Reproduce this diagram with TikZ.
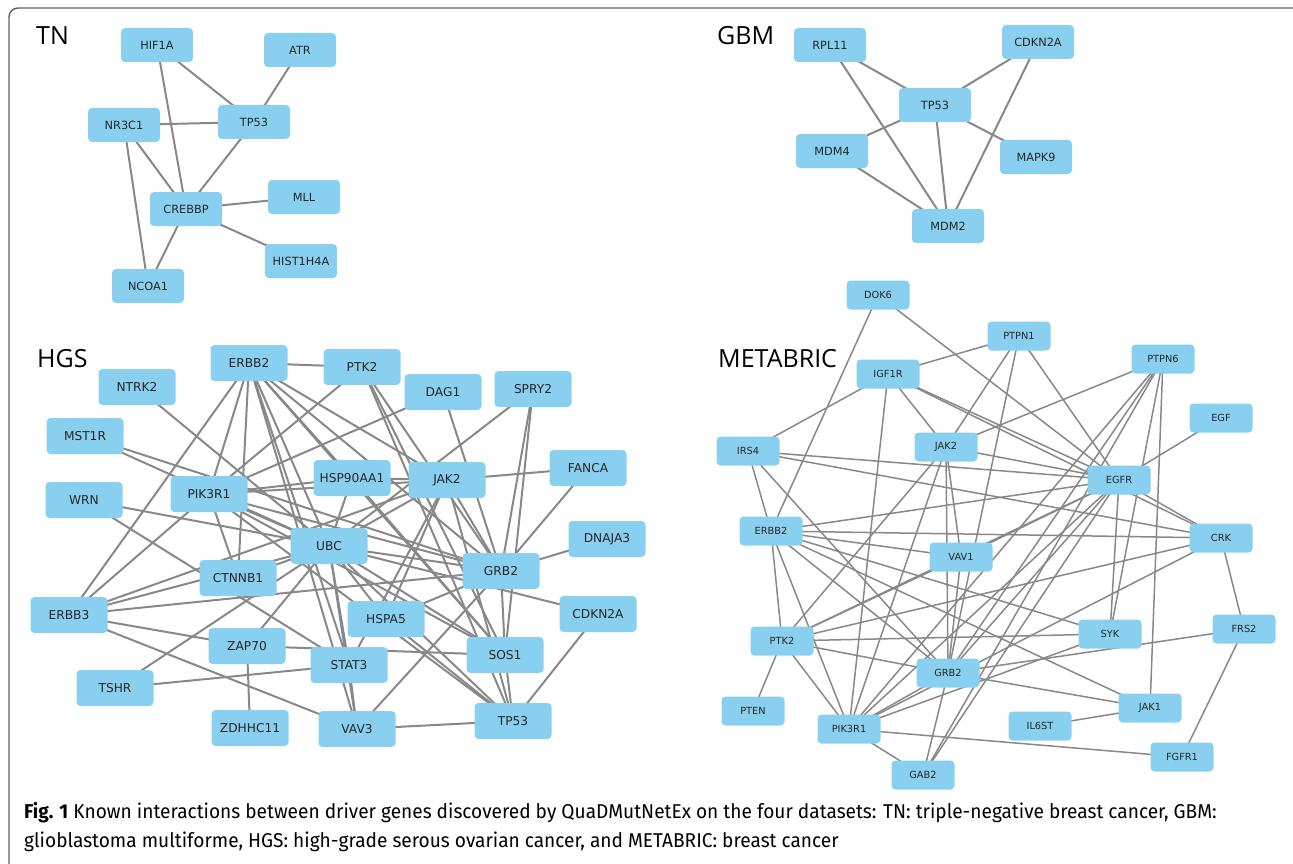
\documentclass[tikz,border=0pt]{standalone}
\usepackage{fontspec}
\newfontfamily\nodefont{DejaVu Sans}
\newfontfamily\labfont{Open Sans}
\newfontfamily\capfont[FakeStretch=0.955]{Fira Sans}
\usetikzlibrary{backgrounds}
\definecolor{nodeblue}{RGB}{137,207,240}
\definecolor{edgegray}{RGB}{136,136,136}
\definecolor{framegray}{RGB}{95,95,95}
\tikzset{
 gene/.style={fill=nodeblue, rounded corners=4pt, inner sep=0pt, text=black!85},
 gsmall/.style={gene, minimum width=72pt, minimum height=34pt, font=\nodefont\fontsize{11.3}{13}\selectfont},
 ghgs/.style={gene, minimum width=77pt, minimum height=36pt, font=\nodefont\fontsize{12.2}{14}\selectfont},
 gmeta/.style={gene, minimum width=63pt, minimum height=29pt, font=\nodefont\fontsize{9.8}{12}\selectfont},
 link/.style={draw=edgegray, line width=2pt},
 mlink/.style={draw=edgegray, line width=1.5pt},
 netlabel/.style={font=\labfont\fontsize{25}{30}\selectfont, anchor=base west, inner sep=0pt},
 captext/.style={font=\capfont\fontsize{20}{24}\selectfont, anchor=west, inner sep=0pt}
}
\begin{document}
\begin{tikzpicture}[x=1pt,y=-1pt]
\useasboundingbox (0,0) rectangle (1293,864);
\draw[framegray, line width=1.4pt, rounded corners=9pt] (1293,8) -- (9,8) -- (9,864);

% labels
\node[netlabel] (labTN) at (36,45) {TN};
\node[netlabel] (labGBM) at (717,45) {GBM};
\node[netlabel] (labHGS) at (37,367) {HGS};
\node[netlabel] (labMET) at (718,367) {METABRIC};

% TN
\node[gsmall] (tHIF) at (157,45) {HIF1A};
\node[gsmall] (tATR) at (300,50) {ATR};
\node[gsmall] (tNR3) at (124,125) {NR3C1};
\node[gsmall] (tTP53) at (254,122) {TP53};
\node[gsmall] (tCRE) at (186,209) {CREBBP};
\node[gsmall] (tMLL) at (304,197) {MLL};
\node[gsmall] (tHIS) at (301,261) {HIST1H4A};
\node[gsmall] (tNCO) at (148,286) {NCOA1};

% GBM
\node[gsmall] (gRPL) at (830,45) {RPL11};
\node[gsmall] (gCDK) at (1038,42) {CDKN2A};
\node[gsmall] (gTP53) at (935,105) {TP53};
\node[gsmall] (gMDM4) at (832,151) {MDM4};
\node[gsmall] (gMAPK) at (1036,157) {MAPK9};
\node[gsmall] (gMDM2) at (948,226) {MDM2};

% HGS
\node[ghgs] (hERBB2) at (249,363) {ERBB2};
\node[ghgs] (hNTRK2) at (137,387) {NTRK2};
\node[ghgs] (hMST1R) at (85,436) {MST1R};
\node[ghgs] (hWRN) at (84,500) {WRN};
\node[ghgs] (hPIK) at (209,494) {PIK3R1};
\node[ghgs] (hHSP) at (352,478) {HSP90AA1};
\node[ghgs] (hUBC) at (329,546) {UBC};
\node[ghgs] (hPTK2) at (362,367) {PTK2};
\node[ghgs] (hDAG1) at (443,392) {DAG1};
\node[ghgs] (hSPRY2) at (533,389) {SPRY2};
\node[ghgs] (hJAK2) at (447,480) {JAK2};
\node[ghgs] (hFANCA) at (588,468) {FANCA};
\node[ghgs] (hDNAJA3) at (607,539) {DNAJA3};
\node[ghgs] (hGRB2) at (501,571) {GRB2};
\node[ghgs] (hCDKN2A) at (598,614) {CDKN2A};
\node[ghgs] (hHSPA5) at (386,619) {HSPA5};
\node[ghgs] (hSOS1) at (505,655) {SOS1};
\node[ghgs] (hSTAT3) at (349,665) {STAT3};
\node[ghgs] (hVAV3) at (357,729) {VAV3};
\node[ghgs] (hTP53) at (513,721) {TP53};
\node[ghgs] (hCTNNB1) at (238,578) {CTNNB1};
\node[ghgs] (hERBB3) at (69,615) {ERBB3};
\node[ghgs] (hZAP70) at (247,646) {ZAP70};
\node[ghgs] (hTSHR) at (115,688) {TSHR};
\node[ghgs] (hZDHHC11) at (250,728) {ZDHHC11};

% METABRIC
\node[gmeta] (mDOK6) at (878,295) {DOK6};
\node[gmeta] (mIGF1R) at (888,374) {IGF1R};
\node[gmeta] (mIRS4) at (748,451) {IRS4};
\node[gmeta] (mJAK2) at (946,447) {JAK2};
\node[gmeta] (mPTPN1) at (1019,336) {PTPN1};
\node[gmeta] (mPTPN6) at (1163,359) {PTPN6};
\node[gmeta] (mEGF) at (1221,418) {EGF};
\node[gmeta] (mEGFR) at (1119,480) {EGFR};
\node[gmeta] (mERBB2) at (771,531) {ERBB2};
\node[gmeta] (mVAV1) at (961,557) {VAV1};
\node[gmeta] (mPTK2) at (782,641) {PTK2};
\node[gmeta] (mGRB2) at (948,673) {GRB2};
\node[gmeta] (mPTEN) at (753,711) {PTEN};
\node[gmeta] (mPIK3R1) at (849,729) {PIK3R1};
\node[gmeta] (mGAB2) at (923,775) {GAB2};
\node[gmeta] (mCRK) at (1221,538) {CRK};
\node[gmeta] (mSYK) at (1110,634) {SYK};
\node[gmeta] (mFRS2) at (1244,629) {FRS2};
\node[gmeta] (mJAK1) at (1150,708) {JAK1};
\node[gmeta] (mIL6ST) at (1040,726) {IL6ST};
\node[gmeta] (mFGFR1) at (1182,757) {FGFR1};

\begin{scope}[on background layer]
\foreach \a/\b in {tHIF/tTP53, tHIF/tCRE, tATR/tTP53, tNR3/tTP53, tNR3/tCRE, tNR3/tNCO, tTP53/tCRE, tCRE/tMLL, tCRE/tHIS, tCRE/tNCO,
 gRPL/gTP53, gRPL/gMDM2, gCDK/gTP53, gCDK/gMDM2, gTP53/gMDM4, gTP53/gMDM2, gTP53/gMAPK, gMDM4/gMDM2}
  \draw[link] (\a.center) -- (\b.center);
\foreach \a/\b in {hERBB2/hPTK2, hERBB2/hERBB3, hERBB2/hPIK, hERBB2/hCTNNB1, hERBB2/hUBC, hERBB2/hSTAT3, hERBB2/hVAV3, hERBB2/hHSP, hERBB2/hJAK2, hERBB2/hGRB2, hERBB2/hSOS1,
 hPTK2/hPIK, hPTK2/hGRB2, hPTK2/hSOS1, hPTK2/hTP53,
 hDAG1/hPIK, hDAG1/hGRB2,
 hSPRY2/hUBC, hSPRY2/hGRB2, hSPRY2/hSOS1,
 hFANCA/hJAK2, hFANCA/hGRB2, hDNAJA3/hGRB2,
 hCDKN2A/hUBC, hCDKN2A/hTP53,
 hNTRK2/hUBC, hMST1R/hUBC, hMST1R/hGRB2, hWRN/hUBC, hWRN/hSTAT3,
 hPIK/hHSP, hPIK/hJAK2, hPIK/hCTNNB1, hPIK/hUBC, hPIK/hGRB2, hPIK/hSOS1, hPIK/hTP53, hPIK/hERBB3,
 hHSP/hJAK2, hHSP/hUBC, hHSP/hSOS1,
 hJAK2/hUBC, hJAK2/hERBB3, hJAK2/hHSPA5, hJAK2/hSTAT3, hJAK2/hGRB2, hJAK2/hTP53,
 hUBC/hCTNNB1, hUBC/hERBB3, hUBC/hTSHR, hUBC/hZAP70, hUBC/hGRB2, hUBC/hSOS1, hUBC/hTP53, hUBC/hSTAT3, hUBC/hVAV3, hUBC/hHSPA5,
 hERBB3/hGRB2, hERBB3/hZAP70, hERBB3/hVAV3,
 hZAP70/hSOS1, hZAP70/hZDHHC11, hTSHR/hSTAT3, hSTAT3/hVAV3,
 hHSPA5/hGRB2, hHSPA5/hTP53, hGRB2/hVAV3, hGRB2/hSOS1, hSOS1/hTP53, hVAV3/hTP53}
  \draw[link] (\a.center) -- (\b.center);
\foreach \a/\b in {mDOK6/mERBB2, mDOK6/mEGFR,
 mIGF1R/mPTPN1, mIGF1R/mIRS4, mIGF1R/mJAK2, mIGF1R/mEGFR, mIGF1R/mCRK, mIGF1R/mPIK3R1,
 mPTPN1/mJAK2, mPTPN1/mGRB2, mPTPN1/mEGFR,
 mJAK2/mPTK2, mJAK2/mPIK3R1, mJAK2/mGRB2, mJAK2/mEGFR, mJAK2/mPTPN6, mJAK2/mVAV1,
 mPTPN6/mGRB2, mPTPN6/mGAB2, mPTPN6/mPIK3R1, mPTPN6/mSYK, mPTPN6/mJAK1,
 mEGF/mEGFR,
 mIRS4/mERBB2, mIRS4/mGRB2, mIRS4/mEGFR, mIRS4/mCRK,
 mERBB2/mPTK2, mERBB2/mPIK3R1, mERBB2/mGRB2, mERBB2/mEGFR, mERBB2/mCRK, mERBB2/mVAV1, mERBB2/mSYK, mERBB2/mJAK1,
 mEGFR/mCRK, mEGFR/mSYK, mEGFR/mPTK2, mEGFR/mGRB2, mEGFR/mPIK3R1, mEGFR/mGAB2, mEGFR/mVAV1,
 mPTK2/mPTEN, mPTK2/mPIK3R1, mPTK2/mGRB2, mPTK2/mSYK, mPTK2/mCRK, mPTK2/mVAV1,
 mPIK3R1/mGAB2, mPIK3R1/mFGFR1, mPIK3R1/mGRB2, mPIK3R1/mSYK, mPIK3R1/mCRK,
 mGRB2/mFRS2, mGRB2/mJAK1, mGRB2/mGAB2, mGRB2/mVAV1,
 mCRK/mFRS2, mFRS2/mFGFR1, mJAK1/mIL6ST}
  \draw[mlink] (\a.center) -- (\b.center);
\end{scope}

% caption
\node[captext] (cap1) at (24,813) {\textbf{Fig. 1} Known interactions between driver genes discovered by QuaDMutNetEx on the four datasets: TN: triple-negative breast cancer, GBM:};
\node[captext] (cap2) at (24,842) {glioblastoma multiforme, HGS: high-grade serous ovarian cancer, and METABRIC: breast cancer};
\end{tikzpicture}
\end{document}
